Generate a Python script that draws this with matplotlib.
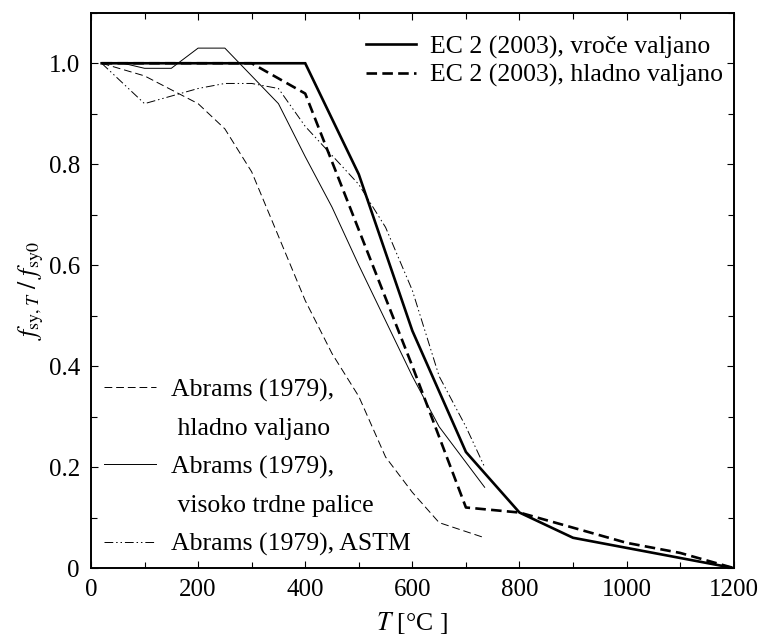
import matplotlib
matplotlib.use("Agg")
import matplotlib.pyplot as plt
from matplotlib.lines import Line2D
from matplotlib.ticker import MultipleLocator

plt.rcParams['font.family'] = ['Liberation Serif', 'DejaVu Serif']
plt.rcParams['mathtext.fontset'] = 'stix'

# EC 2 (2003)
T_ec = [20, 100, 200, 300, 400, 500, 600, 700, 800, 900, 1000, 1100, 1200]
ec_hot = [1.0, 1.0, 1.0, 1.0, 1.0, 0.78, 0.47, 0.23, 0.11, 0.06, 0.04, 0.02, 0.0]
ec_cold = [1.0, 1.0, 1.0, 1.0, 0.94, 0.67, 0.40, 0.12, 0.11, 0.08, 0.05, 0.03, 0.0]

# Abrams (1979), hladno valjano
T_ab_cold = [20, 100, 200, 250, 300, 400, 450, 500, 550, 600, 650, 735]
ab_cold = [1.0, 0.975, 0.92, 0.87, 0.785, 0.53, 0.425, 0.34, 0.22, 0.15, 0.09, 0.06]

# Abrams (1979), visoko trdne palice
T_ab_hs = [20, 60, 100, 150, 200, 250, 350, 400, 450, 500, 550, 600, 650, 735]
ab_hs = [1.0, 1.0, 0.99, 0.99, 1.03, 1.03, 0.92, 0.815, 0.715, 0.6, 0.49, 0.38, 0.28, 0.16]

# Abrams (1979), ASTM
T_ab_astm = [20, 100, 200, 250, 300, 350, 400, 500, 550, 600, 650, 700, 735]
ab_astm = [1.0, 0.92, 0.95, 0.96, 0.96, 0.95, 0.875, 0.76, 0.675, 0.55, 0.38, 0.28, 0.20]

fig = plt.figure(figsize=(7.58, 6.39), dpi=100)
ax = fig.add_axes([0.120, 0.111, 0.848, 0.869])

l_hot, = ax.plot(T_ec, ec_hot, color='black', lw=1.9, solid_joinstyle='miter')
l_cold, = ax.plot(T_ec, ec_cold, color='black', lw=1.9, linestyle=(0, (4, 2)))
l_abc, = ax.plot(T_ab_cold, ab_cold, color='black', lw=0.7, linestyle=(0, (8, 4)))
l_abh, = ax.plot(T_ab_hs, ab_hs, color='black', lw=0.7)
l_aba, = ax.plot(T_ab_astm, ab_astm, color='black', lw=0.7,
                 linestyle=(0, (9, 3, 1.5, 3, 1.5, 3)))

ax.set_xlim(0, 1200)
ax.set_ylim(0, 1.1)
ax.xaxis.set_major_locator(MultipleLocator(200))
ax.xaxis.set_minor_locator(MultipleLocator(100))
ax.yaxis.set_major_locator(MultipleLocator(0.2))
ax.yaxis.set_minor_locator(MultipleLocator(0.1))
ax.set_xticks([0, 200, 400, 600, 800, 1000, 1200])
ax.set_xticklabels(['0', '200', '400', '600', '800', '1000', '1200'])
ax.set_yticks([0, 0.2, 0.4, 0.6, 0.8, 1.0])
ax.set_yticklabels(['0', '0.2', '0.4', '0.6', '0.8', '1.0'])
ax.tick_params(which='both', direction='in', top=True, right=True,
               labelsize=18, width=0.8, pad=8)
ax.tick_params(which='major', length=5)
ax.tick_params(which='minor', length=4)
for s in ax.spines.values():
    s.set_linewidth(1.4)

ax.set_xlabel(r'$T$ [°C ]', fontsize=18.5, labelpad=6)
ax.set_ylabel(r'$f_{\mathrm{sy},T}\ /\ f_{\mathrm{sy0}}$', fontsize=18.5, labelpad=2)

leg1 = ax.legend([l_hot, l_cold],
                 ['EC 2 (2003), vroče valjano', 'EC 2 (2003), hladno valjano'],
                 loc='upper right', frameon=False, fontsize=18.5,
                 handlelength=1.95, handletextpad=0.55, labelspacing=0.2,
                 borderaxespad=0.0, bbox_to_anchor=(1.0, 0.978))
ax.add_artist(leg1)

blank = Line2D([], [], linestyle='none')
ax.legend([l_abc, blank, l_abh, blank, l_aba],
          ['Abrams (1979),', ' hladno valjano', 'Abrams (1979),',
           ' visoko trdne palice', 'Abrams (1979), ASTM'],
          loc='lower left', frameon=False, fontsize=18.5,
          handlelength=2.0, handletextpad=0.6, labelspacing=0.6,
          borderaxespad=0.0, bbox_to_anchor=(0.005, 0.003))

fig.savefig('out.png', dpi=100)
